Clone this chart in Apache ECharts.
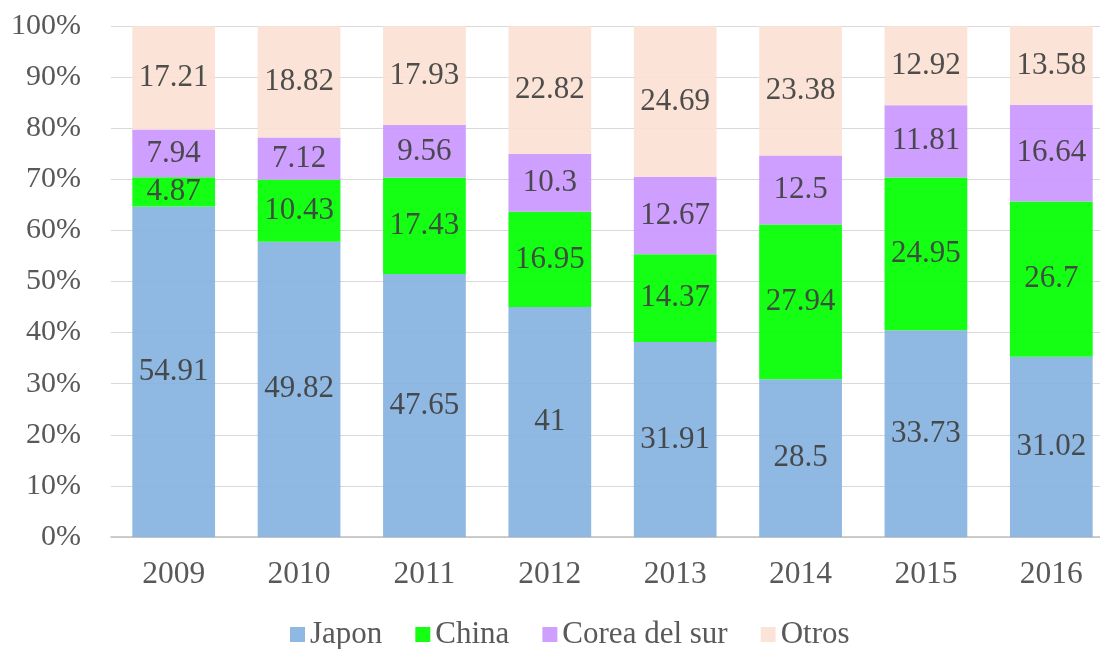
<!DOCTYPE html>
<html><head><meta charset="utf-8">
<script src="https://cdn.jsdelivr.net/npm/echarts@6/dist/echarts.min.js"></script>
<style>html,body{margin:0;padding:0;background:#fff}#c{width:1100px;height:649px}</style>
</head><body><div id="c"></div>
<script>
const years = ['2009','2010','2011','2012','2013','2014','2015','2016'];
const japon = [54.91, 49.82, 47.65, 41, 31.91, 28.5, 33.73, 31.02];
const china = [4.87, 10.43, 17.43, 16.95, 14.37, 27.94, 24.95, 26.7];
const corea = [7.94, 7.12, 9.56, 10.3, 12.67, 12.5, 11.81, 16.64];
const otros = [17.21, 18.82, 17.93, 22.82, 24.69, 23.38, 12.92, 13.58];
const seriesNames = ['Japon','China','Corea del sur','Otros'];
const colors = ['#86B3DF','#00FF00','#CA97FF','#FBE2D4'];

const raw = [japon, china, corea, otros];
const totals = years.map((_, i) => raw.reduce((s, a) => s + a[i], 0));
const font = 'Liberation Serif';

const chart = echarts.init(document.getElementById('c'));
chart.setOption({
  animation: false,
  textStyle: {fontFamily: font},
  grid: {left: 111, width: 1003, top: 26, height: 511, containLabel: false, outerBoundsMode: 'none'},
  legend: {
    left: 285, bottom: -6, itemWidth: 15, itemHeight: 15, itemGap: 33,
    icon: 'rect',
    textStyle: {fontFamily: font, fontSize: 31, color: '#595959'},
    data: seriesNames
  },
  xAxis: {
    type: 'category', data: years,
    axisTick: {show: false},
    axisLine: {lineStyle: {color: '#BFBFBF', width: 1.5}},
    axisLabel: {fontFamily: font, fontSize: 31.5, color: '#595959', margin: 22}
  },
  yAxis: {
    type: 'value', min: 0, max: 100, interval: 10,
    axisLabel: {fontFamily: font, fontSize: 30, color: '#595959', formatter: '{value}%', margin: 30},
    splitLine: {lineStyle: {color: '#D9D9D9', width: 1}},
    axisLine: {show: false}, axisTick: {show: false}
  },
  series: raw.map((arr, k) => ({
    name: seriesNames[k], type: 'bar', stack: 'total', barCategoryGap: '34%',
    itemStyle: {color: colors[k], opacity: 0.92},
    label: {
      show: true, position: 'inside', fontFamily: font, fontSize: 31, color: '#404040',
      formatter: p => String(arr[p.dataIndex])
    },
    data: arr.map((v, i) => v / totals[i] * 100)
  }))
});
</script></body></html>
